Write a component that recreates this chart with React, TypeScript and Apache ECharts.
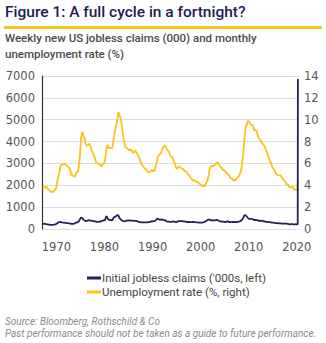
import React, { useEffect, useRef } from "react";
import * as echarts from "echarts";

// Quarterly data, 1967 Q1 .. 2019 Q4
const startYear = 1967;
const unemploymentQuarterly = [
  3.8, 3.8, 3.8, 3.9, 3.7, 3.6, 3.5, 3.4, 3.4, 3.4, 3.6, 3.6,
  4.2, 4.8, 5.2, 5.8, 5.9, 5.9, 6.0, 5.9, 5.8, 5.7, 5.6, 5.4,
  4.9, 4.9, 4.8, 4.8, 5.1, 5.2, 5.6, 6.6, 8.3, 8.9, 8.5, 8.3,
  7.7, 7.6, 7.7, 7.8, 7.5, 7.1, 6.9, 6.7, 6.3, 6.0, 6.0, 5.9,
  5.9, 5.7, 5.9, 6.0, 6.3, 7.3, 7.7, 7.4, 7.4, 7.4, 7.4, 8.2,
  8.8, 9.4, 9.9, 10.7, 10.4, 10.1, 9.4, 8.5, 7.9, 7.5, 7.4, 7.3,
  7.2, 7.3, 7.2, 7.0, 7.0, 7.2, 7.0, 6.8, 6.6, 6.3, 6.0, 5.8,
  5.7, 5.5, 5.5, 5.3, 5.2, 5.2, 5.3, 5.4, 5.3, 5.3, 5.7, 6.1,
  6.6, 6.8, 6.9, 7.1, 7.4, 7.6, 7.6, 7.4, 7.2, 7.1, 6.8, 6.6,
  6.6, 6.2, 6.0, 5.6, 5.5, 5.7, 5.7, 5.6, 5.5, 5.5, 5.3, 5.3,
  5.2, 5.0, 4.9, 4.7, 4.6, 4.4, 4.5, 4.4, 4.3, 4.3, 4.2, 4.1,
  4.0, 3.9, 4.0, 3.9, 4.2, 4.4, 4.8, 5.5, 5.7, 5.8, 5.7, 5.9,
  5.9, 6.1, 6.1, 5.8, 5.7, 5.6, 5.4, 5.4, 5.3, 5.1, 5.0, 5.0,
  4.7, 4.6, 4.6, 4.4, 4.5, 4.5, 4.7, 4.8, 5.0, 5.3, 6.0, 6.9,
  8.3, 9.3, 9.6, 9.9, 9.8, 9.6, 9.5, 9.5, 9.0, 9.1, 9.0, 8.6,
  8.3, 8.2, 8.0, 7.8, 7.7, 7.5, 7.2, 6.9, 6.6, 6.2, 6.1, 5.7,
  5.5, 5.4, 5.1, 5.0, 4.9, 4.9, 4.9, 4.7, 4.6, 4.4, 4.3, 4.1,
  4.1, 3.9, 3.8, 3.8, 3.9, 3.6, 3.6, 3.6,
];
const claimsQuarterly = [
  220, 240, 230, 220, 210, 200, 195, 190, 190, 195, 205, 220,
  250, 300, 310, 320, 300, 290, 290, 280, 270, 265, 260, 245,
  230, 235, 240, 265, 300, 300, 340, 440, 530, 500, 430, 380,
  360, 370, 400, 390, 380, 370, 370, 350, 350, 330, 330, 340,
  340, 360, 380, 400, 410, 590, 500, 420, 420, 400, 410, 510,
  560, 580, 630, 620, 500, 440, 390, 370, 350, 360, 380, 390,
  390, 380, 380, 380, 370, 370, 370, 350, 330, 320, 300, 300,
  300, 300, 300, 300, 310, 320, 340, 360, 350, 360, 390, 460,
  470, 430, 420, 440, 420, 410, 400, 350, 340, 340, 330, 330,
  340, 350, 330, 320, 330, 360, 360, 360, 360, 350, 350, 340,
  320, 320, 320, 310, 310, 320, 310, 310, 300, 300, 290, 290,
  290, 290, 310, 330, 370, 400, 430, 430, 390, 400, 390, 390,
  410, 420, 400, 360, 350, 340, 340, 330, 320, 330, 360, 320,
  310, 310, 320, 320, 310, 320, 320, 340, 350, 370, 430, 520,
  640, 620, 560, 490, 460, 460, 460, 440, 410, 420, 410, 400,
  370, 380, 370, 380, 350, 350, 320, 330, 330, 310, 300, 290,
  290, 280, 270, 270, 260, 270, 260, 250, 250, 245, 260, 240,
  230, 220, 210, 220, 220, 215, 215, 220,
];
// 2020 tail (monthly unemployment, weekly claims)
const unemploymentTailDates = [2020.04, 2020.12, 2020.2];
const unemploymentTail = [3.6, 3.5, 4.4];
const claimsTailDates = [2020.02, 2020.1, 2020.17, 2020.19, 2020.21, 2020.23];
const claimsTail = [214, 211, 211, 282, 3307, 6867];

const yearTicks = [1970, 1980, 1990, 2000, 2010, 2020];
const seriesNames = ["Initial jobless claims ('000s, left)", "Unemployment rate (%, right)"];

const NAVY = "#23225a";
const YELLOW = "#f8c41c";
const FONT = "DejaVu Sans";
const TFONT = "Roboto";

export default function App() {
  const ref = useRef<HTMLDivElement>(null);
  useEffect(() => {
    if (!ref.current) return;
    const chart = echarts.init(ref.current, null, { renderer: "svg" });
    const qx = (i: number) => startYear + i / 4 + 0.125;
    const claimsData = claimsQuarterly
      .map((v, i) => [qx(i), v])
      .concat(claimsTail.map((v, i) => [claimsTailDates[i], v]));
    const unempData = unemploymentQuarterly
      .map((v, i) => [qx(i), v])
      .concat(unemploymentTail.map((v, i) => [unemploymentTailDates[i], v]));
    chart.setOption({
      animation: false,
      backgroundColor: "#ffffff",
      grid: { left: 42, right: 28, top: 76, bottom: 114, containLabel: false },
      xAxis: {
        type: "value",
        min: 1967,
        max: 2020.25,
        axisLine: { show: false },
        axisTick: { show: false },
        splitLine: { show: false },
        axisLabel: {
          customValues: yearTicks,
          formatter: (v: number) => String(Math.round(v)),
          color: "#555",
          fontFamily: FONT,
          fontSize: 11.5,
          margin: 12,
          showMinLabel: true,
          showMaxLabel: true,
        },
      },
      yAxis: [
        {
          type: "value",
          min: 0,
          max: 7000,
          interval: 1000,
          axisLine: { show: true, lineStyle: { color: "#333", width: 1.2 } },
          axisTick: { show: false },
          splitLine: { show: true, lineStyle: { color: "#dcdcdc", width: 1 } },
          axisLabel: {
            color: "#555",
            fontFamily: FONT,
            fontSize: 11.5,
            margin: 7,
            formatter: (v: number) => String(v),
          },
        },
        {
          type: "value",
          min: 0,
          max: 14,
          interval: 2,
          axisLine: { show: false },
          axisTick: { show: false },
          splitLine: { show: false },
          axisLabel: { color: "#555", fontFamily: FONT, fontSize: 11.5, margin: 6 },
        },
      ],
      legend: {
        orient: "vertical",
        left: 82,
        top: 267,
        itemWidth: 14,
        itemHeight: 3,
        itemGap: 2,
        icon: "rect",
        textStyle: { color: "#444", fontFamily: TFONT, fontSize: 11.5, padding: [0, 0, 0, -4] },
        data: seriesNames,
      },
      series: [
        {
          name: seriesNames[0],
          type: "line",
          yAxisIndex: 0,
          data: claimsData,
          showSymbol: false,
          lineStyle: { color: NAVY, width: 1.8 },
          itemStyle: { color: NAVY },
          z: 3,
        },
        {
          name: seriesNames[1],
          type: "line",
          yAxisIndex: 1,
          data: unempData,
          showSymbol: false,
          lineStyle: { color: YELLOW, width: 1.8 },
          itemStyle: { color: YELLOW },
          z: 2,
        },
      ],
      graphic: [
        {
          type: "text",
          left: 5,
          top: 4,
          style: { text: "Figure 1: A full cycle in a fortnight?", fill: "#1c2150", font: `500 15.5px ${TFONT}` },
        },
        {
          type: "rect",
          shape: { x: 4, y: 26, width: 318, height: 3 },
          style: { fill: "#f5c518" },
        },
        {
          type: "text",
          left: 5,
          top: 30,
          style: {
            text: "Weekly new US jobless claims (000) and monthly\nunemployment rate (%)",
            fill: "#4a4a4a",
            font: `500 11.5px ${TFONT}`,
            lineHeight: 16,
          },
        },
        {
          type: "text",
          left: 5,
          top: 315,
          style: {
            text: "Source: Bloomberg, Rothschild & Co\nPast performance should not be taken as a guide to future performance.",
            fill: "#8a8a8a",
            font: `italic 10px ${TFONT}`,
            lineHeight: 12,
          },
        },
      ],
    });
    return () => chart.dispose();
  }, []);
  return <div ref={ref} style={{ position: "fixed", left: 0, top: 0, width: 326, height: 343 }} />;
}
